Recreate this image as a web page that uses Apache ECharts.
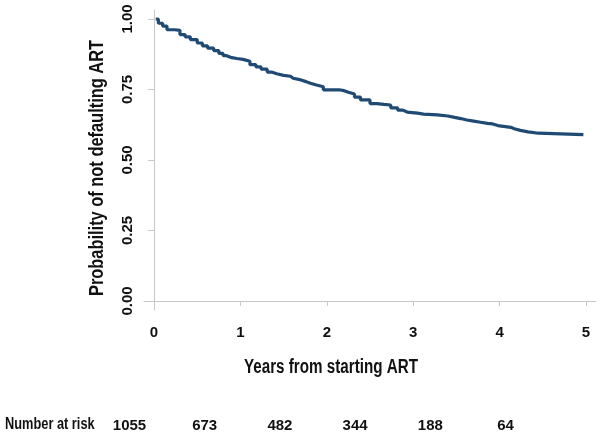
<!DOCTYPE html>
<html>
<head>
<meta charset="utf-8">
<script src="https://cdn.jsdelivr.net/npm/echarts@6/dist/echarts.min.js"></script>
<style>html,body{margin:0;padding:0;background:#fff}#c{width:600px;height:433px}</style>
</head>
<body>
<div id="c"></div>
<script>
// Kaplan-Meier estimate (years, survival probability)
const years = [0.02,0.05,0.10,0.15,0.24,0.30,0.36,0.42,0.50,0.56,0.62,0.69,0.75,0.80,0.84,0.90,0.96,1.03,1.11,1.18,1.24,1.31,1.36,1.42,1.50,1.58,1.61,1.70,1.76,1.81,1.88,1.96,2.14,2.20,2.25,2.32,2.39,2.50,2.58,2.66,2.74,2.82,2.88,2.93,3.05,3.12,3.28,3.40,3.48,3.55,3.62,3.70,3.78,3.86,3.92,3.98,4.13,4.17,4.24,4.33,4.45,4.97];
const survival = [1.000,0.985,0.975,0.962,0.960,0.945,0.937,0.927,0.915,0.905,0.897,0.888,0.878,0.870,0.863,0.860,0.857,0.850,0.838,0.830,0.822,0.812,0.806,0.800,0.797,0.790,0.784,0.778,0.772,0.766,0.760,0.749,0.746,0.740,0.734,0.723,0.713,0.700,0.697,0.695,0.685,0.677,0.670,0.666,0.663,0.660,0.656,0.651,0.647,0.642,0.638,0.634,0.630,0.628,0.622,0.616,0.611,0.605,0.600,0.595,0.590,0.590];
const xTicks = [0,1,2,3,4,5];
const yTicks = [0,0.25,0.5,0.75,1];
const riskTimes = [0,1,2,3,4,5];
const numberAtRisk = [1055,673,482,344,188,64];
const xTitle = 'Years from starting ART';
const yTitle = 'Probability of not defaulting ART';
const riskTitle = 'Number at risk';

const FONT = "'Liberation Sans Narrow','Arial Narrow','Liberation Sans',Arial,sans-serif";
const chart = echarts.init(document.getElementById('c'), null, {renderer:'canvas'});
chart.setOption({
  animation:false,
  backgroundColor:'#ffffff',
  grid:[
    {left:144, right:4, top:10, bottom:123, containLabel:false},
    {left:129.5, right:94.5, top:416, height:1, containLabel:false}
  ],
  xAxis:[{
    type:'value', gridIndex:0, min:-0.116, max:5.116,
    axisLine:{show:true, lineStyle:{color:'#c8c8c8', width:1}},
    axisTick:{show:true, length:5, customValues:xTicks, lineStyle:{color:'#c8c8c8'}},
    axisLabel:{customValues:xTicks, color:'#111', fontFamily:FONT, fontWeight:'bold', fontSize:15, margin:15},
    splitLine:{show:false}
  },{
    type:'value', gridIndex:1, min:0, max:5,
    axisLine:{show:false}, axisTick:{show:false}, splitLine:{show:false},
    axisLabel:{customValues:riskTimes, color:'#111', fontFamily:FONT, fontWeight:'bold', fontSize:15, margin:2,
      formatter:function(v){ const i = riskTimes.indexOf(v); return i>=0 ? String(numberAtRisk[i]) : ''; }}
  }],
  yAxis:[{
    type:'value', gridIndex:0, min:-0.032, max:1.032,
    axisLine:{show:true, lineStyle:{color:'#c8c8c8', width:1}},
    axisTick:{show:true, length:6, customValues:yTicks, lineStyle:{color:'#c8c8c8'}},
    axisLabel:{customValues:yTicks, rotate:90, color:'#111', fontFamily:FONT, fontWeight:'bold', fontSize:15, margin:9,
      formatter:function(v){ return v.toFixed(2); }},
    splitLine:{show:false}
  },{
    type:'value', gridIndex:1, show:false
  }],
  graphic:[{
    type:'text', x:331, y:367, scaleX:0.76,
    style:{text:xTitle, fill:'#111', font:"bold 20px "+FONT, textAlign:'center', textVerticalAlign:'middle'}
  },{
    type:'text', x:97, y:168, rotation:Math.PI/2, scaleX:0.82,
    style:{text:yTitle, fill:'#111', font:"bold 20px "+FONT, textAlign:'center', textVerticalAlign:'middle'}
  },{
    type:'text', x:5, y:425, scaleX:0.8,
    style:{text:riskTitle, fill:'#111', font:"bold 16px "+FONT, textAlign:'left', textVerticalAlign:'middle'}
  }],
  series:[{
    type:'line', xAxisIndex:0, yAxisIndex:0, step:'end', symbol:'none',
    lineStyle:{color:'#1f4a73', width:3.2},
    data: years.map((t,i)=>[t, survival[i]])
  }]
});
</script>
</body>
</html>
